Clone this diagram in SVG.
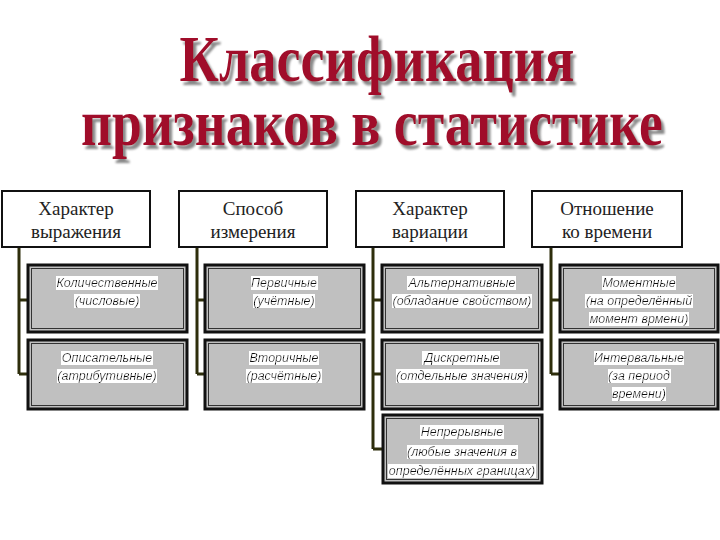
<svg xmlns="http://www.w3.org/2000/svg" width="720" height="540" viewBox="0 0 720 540">
  <defs>
    <filter id="hl" x="0" y="0" width="1" height="1">
      <feFlood flood-color="#ffffff"/>
      <feMerge><feMergeNode/><feMergeNode in="SourceGraphic"/></feMerge>
    </filter>
    <filter id="shadow" x="-5%" y="-20%" width="112%" height="150%">
      <feOffset in="SourceAlpha" dx="3" dy="4" result="o"/>
      <feGaussianBlur in="o" stdDeviation="1.3" result="b"/>
      <feFlood flood-color="#8a8a8a"/>
      <feComposite in2="b" operator="in" result="s"/>
      <feMerge><feMergeNode in="s"/><feMergeNode in="SourceGraphic"/></feMerge>
    </filter>
  </defs>
  <style>
    .title{font-family:"Liberation Serif","Times New Roman",serif;font-weight:bold;font-size:66px;text-anchor:middle;fill:#a0102c;filter:url(#shadow)}
    .head rect{fill:#ffffff;stroke:#111111;stroke-width:2}
    .head text{font-family:"Liberation Serif","Times New Roman",serif;font-size:19px;fill:#222222;text-anchor:middle}
    .child .outer{fill:#c0c0c0;stroke:#111111;stroke-width:3}
    .child .inner{fill:none;stroke:#333333;stroke-width:1}
    .child text{font-family:"Liberation Sans",Arial,sans-serif;font-style:italic;font-size:12.5px;fill:#111111;text-anchor:middle;filter:url(#hl)}
    .conn path{fill:none;stroke:#2e2e0c;stroke-width:3}
  </style>
  <rect width="720" height="540" fill="#ffffff"/>

  <g id="title">
    <text class="title" x="377" y="81" textLength="395" lengthAdjust="spacingAndGlyphs">Классификация</text>
    <text class="title" x="372" y="145" textLength="582" lengthAdjust="spacingAndGlyphs">признаков в статистике</text>
  </g>

  <g class="conn" id="connectors">
    <path d="M19 247 V374 M19 300 H29 M19 374 H29"/>
    <path d="M197 247 V374 M197 300 H206 M197 374 H206"/>
    <path d="M373 247 V449 M373 300 H383 M373 374 H383 M373 449 H384"/>
    <path d="M551 247 V374 M551 300 H561 M551 374 H561"/>
  </g>

  <g class="head" id="h1"><rect x="2" y="191" width="148" height="56"/><text x="76" y="215">Характер</text><text x="76" y="238">выражения</text></g>
  <g class="head" id="h2"><rect x="179" y="191" width="148" height="56"/><text x="253" y="215">Способ</text><text x="253" y="238">измерения</text></g>
  <g class="head" id="h3"><rect x="356" y="191" width="148" height="56"/><text x="430" y="215">Характер</text><text x="430" y="238">вариации</text></g>
  <g class="head" id="h4"><rect x="532" y="191" width="150" height="56"/><text x="607" y="215">Отношение</text><text x="607" y="238">ко времени</text></g>

  <g class="child" id="c11"><rect class="outer" x="28" y="265" width="159" height="67"/><rect class="inner" x="31.5" y="268.5" width="152" height="60"/>
    <text x="107" y="287">Количественные</text><text x="107" y="305">(числовые)</text></g>
  <g class="child" id="c12"><rect class="outer" x="28" y="340" width="159" height="69"/><rect class="inner" x="31.5" y="343.5" width="152" height="62"/>
    <text x="107" y="362">Описательные</text><text x="107" y="380">(атрибутивные)</text></g>

  <g class="child" id="c21"><rect class="outer" x="205" y="265" width="159" height="67"/><rect class="inner" x="208.5" y="268.5" width="152" height="60"/>
    <text x="284" y="287">Первичные</text><text x="284" y="305">(учётные)</text></g>
  <g class="child" id="c22"><rect class="outer" x="205" y="340" width="159" height="69"/><rect class="inner" x="208.5" y="343.5" width="152" height="62"/>
    <text x="284" y="362">Вторичные</text><text x="284" y="380">(расчётные)</text></g>

  <g class="child" id="c31"><rect class="outer" x="382" y="265" width="160" height="67"/><rect class="inner" x="385.5" y="268.5" width="153" height="60"/>
    <text x="462" y="287">Альтернативные</text><text x="462" y="305">(обладание свойством)</text></g>
  <g class="child" id="c32"><rect class="outer" x="382" y="340" width="160" height="69"/><rect class="inner" x="385.5" y="343.5" width="153" height="62"/>
    <text x="462" y="362">Дискретные</text><text x="462" y="380">(отдельные значения)</text></g>
  <g class="child" id="c33"><rect class="outer" x="383" y="415" width="159" height="68"/><rect class="inner" x="386.5" y="418.5" width="152" height="61"/>
    <text x="462" y="436">Непрерывные</text><text x="462" y="456">(любые значения в</text><text x="462" y="475">определённых границах)</text></g>

  <g class="child" id="c41"><rect class="outer" x="560" y="265" width="158" height="67"/><rect class="inner" x="563.5" y="268.5" width="151" height="60"/>
    <text x="639" y="287">Моментные</text><text x="639" y="305">(на определённый</text><text x="639" y="323">момент врмени)</text></g>
  <g class="child" id="c42"><rect class="outer" x="560" y="340" width="158" height="69"/><rect class="inner" x="563.5" y="343.5" width="151" height="62"/>
    <text x="639" y="362">Интервальные</text><text x="639" y="380">(за период</text><text x="639" y="398">времени)</text></g>
</svg>
